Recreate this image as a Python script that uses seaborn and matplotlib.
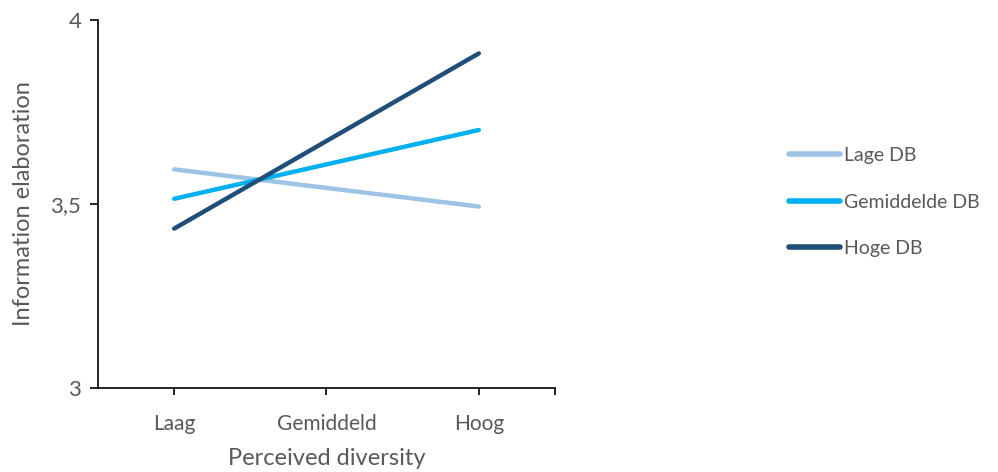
import matplotlib
matplotlib.use("Agg")
import matplotlib.pyplot as plt
import seaborn as sns
import pandas as pd

categories = ["Laag", "Hoog"]
tick_labels = ["Laag", "Gemiddeld", "Hoog"]
series_names = ["Lage DB", "Gemiddelde DB", "Hoge DB"]
lage_db = [3.594, 3.493]
gemiddelde_db = [3.514, 3.701]
hoge_db = [3.433, 3.909]
colors = ["#9DC3E6", "#00B0F0", "#1F4E79"]

pos = {"Laag": 0, "Gemiddeld": 1, "Hoog": 2}
rows = []
for name, vals in zip(series_names, [lage_db, gemiddelde_db, hoge_db]):
    for cat, v in zip(categories, vals):
        rows.append({"x": pos[cat], "y": v, "groep": name})
df = pd.DataFrame(rows)

sns.set_theme(style="white")
plt.rcParams["font.family"] = ["Lato", "DejaVu Sans"]
text_color = "#595959"

fig = plt.figure(figsize=(9.98, 4.72), dpi=100)
ax = fig.add_axes([0.0982, 0.178, 0.4579, 0.7798])

sns.lineplot(data=df, x="x", y="y", hue="groep", hue_order=series_names,
             palette=colors, linewidth=3.2, ax=ax, legend=True)
for line in ax.get_lines():
    line.set_solid_capstyle("round")

ax.set_xlim(-0.5, 2.5)
ax.set_ylim(3, 4)
ax.set_xticks([0, 1, 2])
ax.set_xticklabels(tick_labels)
ax.set_xticks([2.5], minor=True)
ax.set_yticks([3, 3.5, 4])
ax.set_yticklabels(["3", "3,5", "4"])

for side in ["top", "right"]:
    ax.spines[side].set_visible(False)
for side in ["left", "bottom"]:
    ax.spines[side].set_color("black")
    ax.spines[side].set_linewidth(1.2)

ax.tick_params(axis="x", which="both", direction="out", length=5, width=1.2,
               color="black", bottom=True, labelsize=15, labelcolor=text_color, pad=14)
ax.tick_params(axis="y", direction="out", length=6, width=1.2, color="black",
               left=True, labelsize=16, labelcolor=text_color, pad=6)

ax.set_xlabel("Perceived diversity", fontsize=17, color=text_color, labelpad=10)
ax.set_ylabel("Information elaboration", fontsize=17, color=text_color, labelpad=12)

handles, labels = ax.get_legend_handles_labels()
for h in handles:
    h.set_linewidth(4)
leg = ax.legend(handles, labels, loc="center left", bbox_to_anchor=(0.791, 0.572),
                bbox_transform=fig.transFigure, frameon=False, fontsize=14,
                labelcolor=text_color, handlelength=2.6, handletextpad=0.2,
                labelspacing=1.53, borderpad=0, borderaxespad=0)

fig.savefig("out.png", dpi=100)
